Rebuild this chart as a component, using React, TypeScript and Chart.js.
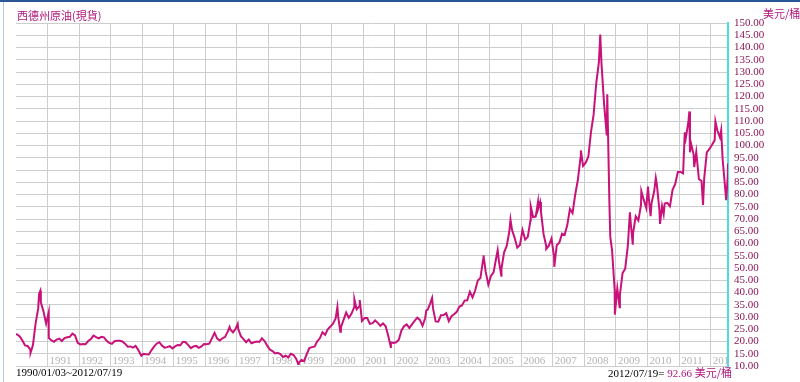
import { useEffect, useRef } from "react";
import { Chart, registerables } from "chart.js";
Chart.register(...registerables);

// Monthly WTI spot prices (USD / barrel)
const p1990 = [22.9, 22.1, 20.4, 18.4, 18.2, 16.7, 18.5, 27.3, 33.5, 36.0, 32.3, 27.3];
const p1991 = [25.2, 20.5, 19.9, 20.8, 21.2, 20.2, 21.4, 21.7, 21.9, 23.2, 22.5, 19.5];
const p1992 = [18.8, 19.0, 18.9, 20.2, 21.0, 22.4, 21.8, 21.3, 21.9, 21.7, 20.3, 19.4];
const p1993 = [19.0, 20.1, 20.3, 20.3, 20.0, 19.1, 17.9, 18.0, 17.5, 18.2, 16.6, 14.5];
const p1994 = [15.0, 14.8, 14.7, 16.4, 17.9, 19.1, 19.7, 18.4, 17.5, 17.7, 18.1, 17.2];
const p1995 = [18.0, 18.6, 18.5, 19.9, 19.7, 18.5, 17.3, 18.0, 18.2, 17.4, 18.0, 19.0];
const p1996 = [18.9, 19.1, 21.3, 23.5, 21.2, 20.4, 21.3, 21.9, 24.0, 24.9, 23.7, 25.2];
const p1997 = [25.1, 22.2, 21.0, 19.7, 20.8, 19.3, 19.7, 20.0, 19.8, 21.3, 20.2, 18.3];
const p1998 = [16.7, 16.1, 15.1, 15.4, 14.9, 13.7, 14.2, 13.5, 15.0, 14.5, 13.0, 11.4];
const p1999 = [12.5, 12.0, 14.7, 17.3, 17.7, 17.9, 20.1, 21.3, 23.8, 22.7, 25.0, 26.1];
const p2000 = [27.3, 29.4, 29.8, 25.7, 28.8, 31.8, 29.7, 31.3, 33.9, 33.1, 34.4, 28.4];
const p2001 = [29.6, 29.6, 27.2, 27.5, 28.6, 27.6, 26.4, 27.4, 26.2, 22.2, 19.6, 19.4];
const p2002 = [19.7, 20.7, 24.5, 26.2, 27.0, 25.5, 27.0, 28.4, 29.7, 28.8, 26.4, 29.5];
const p2003 = [33.0, 35.8, 33.5, 28.2, 28.1, 30.7, 30.8, 31.6, 28.3, 30.3, 31.1, 32.1];
const p2004 = [34.3, 34.7, 36.7, 36.8, 40.3, 38.0, 40.8, 44.9, 45.9, 53.3, 48.5, 43.2];
const p2005 = [46.8, 48.2, 54.2, 53.0, 49.8, 56.4, 59.0, 65.0, 65.6, 62.3, 58.3, 59.4];
const p2006 = [65.5, 61.6, 62.7, 69.4, 70.8, 71.0, 74.4, 73.0, 63.8, 58.9, 59.1, 62.0];
const p2007 = [54.5, 59.3, 60.4, 64.0, 63.5, 67.5, 74.1, 72.4, 79.9, 85.8, 94.8, 91.7];
const p2008 = [93.0, 95.4, 105.5, 112.6, 125.4, 133.9, 133.4, 116.7, 104.1, 76.6, 57.3, 41.1];
const p2009 = [41.7, 39.1, 47.9, 49.7, 59.0, 69.6, 64.2, 71.1, 69.4, 75.7, 78.0, 74.5];
const p2010 = [78.3, 76.4, 81.2, 84.3, 73.7, 75.3, 76.3, 76.6, 75.2, 81.9, 84.3, 89.2];
const p2011 = [89.2, 88.6, 102.9, 109.5, 100.9, 96.3, 97.3, 86.3, 85.5, 86.3, 97.2, 98.6];
const p2012 = [100.3, 102.2, 106.2, 103.3, 94.7, 82.3, 88.0];

const monthlyByYear: [number, number[]][] = [
  [1990, p1990], [1991, p1991], [1992, p1992], [1993, p1993], [1994, p1994],
  [1995, p1995], [1996, p1996], [1997, p1997], [1998, p1998], [1999, p1999],
  [2000, p2000], [2001, p2001], [2002, p2002], [2003, p2003], [2004, p2004],
  [2005, p2005], [2006, p2006], [2007, p2007], [2008, p2008], [2009, p2009],
  [2010, p2010], [2011, p2011], [2012, p2012],
];

// Daily extremes visible on the chart: [year, month, day, price]
const dailyPoints: [number, number, number, number][] = [
  [1990, 1, 3, 23.0], [1990, 6, 20, 15.4], [1990, 9, 27, 39.5], [1990, 10, 11, 40.7],
  [1991, 1, 16, 32.0], [1991, 1, 17, 21.4], [1993, 12, 23, 14.2],
  [1996, 10, 8, 25.9], [1997, 1, 10, 27.2], [1998, 12, 10, 10.8],
  [2000, 3, 7, 34.1], [2000, 4, 10, 24.0], [2000, 9, 20, 37.2], [2000, 11, 21, 36.9],
  [2001, 11, 15, 17.8], [2002, 12, 30, 32.7], [2003, 3, 7, 37.8],
  [2004, 10, 22, 55.2], [2005, 4, 4, 57.3], [2005, 5, 16, 46.8], [2005, 8, 30, 69.8],
  [2006, 4, 21, 75.2], [2006, 7, 14, 77.0], [2006, 8, 7, 76.9], [2006, 10, 17, 57.8],
  [2007, 1, 18, 50.5], [2007, 11, 21, 98.0], [2008, 7, 3, 145.3],
  [2008, 9, 22, 120.9], [2008, 10, 27, 62.7], [2008, 12, 19, 31.0],
  [2009, 2, 12, 34.0], [2009, 6, 11, 72.7], [2009, 7, 14, 59.5], [2009, 10, 21, 81.4],
  [2010, 1, 6, 83.2], [2010, 2, 5, 71.2], [2010, 4, 6, 86.8], [2010, 5, 25, 68.0],
  [2010, 7, 6, 72.0], [2011, 3, 7, 105.4], [2011, 4, 29, 113.9], [2011, 5, 6, 97.2],
  [2011, 6, 24, 91.2], [2011, 10, 4, 75.7], [2012, 2, 24, 109.8], [2012, 5, 1, 106.2],
  [2012, 6, 28, 77.7], [2012, 7, 19, 92.66],
];

const yearTicks = [1991, 1992, 1993, 1994, 1995, 1996, 1997, 1998, 1999, 2000, 2001,
  2002, 2003, 2004, 2005, 2006, 2007, 2008, 2009, 2010, 2011, 2012];
const priceMin = 10;
const priceMax = 150;
const priceStep = 5;

const startDate: [number, number, number] = [1990, 1, 3];
const endDate: [number, number, number] = [2012, 7, 19];

function toYear(y: number, m: number, d: number): number {
  const start = Date.UTC(y, 0, 1);
  const next = Date.UTC(y + 1, 0, 1);
  const t = Date.UTC(y, m - 1, d);
  return y + (t - start) / (next - start);
}

function buildPoints() {
  const pts: { x: number; y: number }[] = [];
  monthlyByYear.forEach(([yr, arr]) => {
    arr.forEach((v, i) => pts.push({ x: yr + (i + 0.5) / 12, y: v }));
  });
  dailyPoints.forEach(([y, m, d, v]) => pts.push({ x: toYear(y, m, d), y: v }));
  pts.sort((a, b) => a.x - b.x);
  return pts;
}

const yearLabelPlugin = {
  id: "yearLabels",
  beforeDatasetsDraw(chart: any) {
    const { ctx, chartArea, scales } = chart;
    const xs = scales.x;
    ctx.save();
    ctx.beginPath();
    ctx.rect(chartArea.left, chartArea.top, chartArea.right - chartArea.left, chartArea.bottom - chartArea.top);
    ctx.clip();
    ctx.fillStyle = "#b4b4b4";
    ctx.font = '11px "Liberation Serif", serif';
    ctx.textAlign = "left";
    ctx.textBaseline = "middle";
    yearTicks.forEach((yr) => {
      const px = xs.getPixelForValue(yr);
      ctx.fillText(String(yr), px + 2, chartArea.bottom - 5);
    });
    ctx.restore();
  },
};

export default function App() {
  const ref = useRef<HTMLCanvasElement | null>(null);
  useEffect(() => {
    if (!ref.current) return;
    const chart = new Chart(ref.current, {
      type: "line",
      data: {
        datasets: [
          {
            data: buildPoints(),
            borderColor: "#c8127a",
            borderWidth: 2,
            pointRadius: 0,
            tension: 0,
            fill: false,
          },
        ],
      },
      options: {
        animation: false,
        responsive: false,
        devicePixelRatio: 1,
        parsing: false as any,
        layout: { padding: { left: 16, top: 23, right: 0, bottom: 16 } },
        plugins: { legend: { display: false }, tooltip: { enabled: false }, title: { display: false } },
        scales: {
          x: {
            type: "linear",
            min: toYear(...startDate),
            max: toYear(...endDate),
            afterBuildTicks: (s: any) => {
              s.ticks = yearTicks.map((v) => ({ value: v }));
            },
            afterFit: (s: any) => {
              s.height = 0;
            },
            ticks: { display: false },
            grid: { color: "#cdcdcd", lineWidth: 1, drawTicks: false },
            border: { display: false },
          },
          y: {
            type: "linear",
            position: "right",
            min: priceMin,
            max: priceMax,
            afterFit: (s: any) => {
              s.width = 72;
            },
            ticks: {
              stepSize: priceStep,
              autoSkip: false,
              color: "#8c1656",
              font: { family: '"Liberation Serif", serif', size: 11 },
              padding: 6,
              callback: (v: any) => Number(v).toFixed(2),
            },
            grid: { color: "#cdcdcd", lineWidth: 1, drawTicks: false },
            border: { color: "#4fdcdc", width: 2 },
          },
        },
      },
      plugins: [yearLabelPlugin],
    });
    return () => chart.destroy();
  }, []);

  return (
    <div style={{ position: "absolute", left: 0, top: 0, width: 800, height: 382, background: "#fff", overflow: "hidden" }}>
      <div style={{ position: "absolute", left: 0, top: 0, width: 800, height: 2, background: "#2b5797" }} />
      <div style={{ position: "absolute", left: 3, top: 2, width: 1, height: 380, background: "#a9cde6" }} />
      <canvas ref={ref} width={800} height={382} style={{ position: "absolute", left: 0, top: 0, width: 800, height: 382 }} />
      <div style={{ position: "absolute", left: 17, top: 7, font: '11px "Noto Sans CJK TC", sans-serif', color: "#b0167c", lineHeight: "16px", whiteSpace: "nowrap" }}>
        西德州原油(現貨)
      </div>
      <div style={{ position: "absolute", left: 763, top: 5, font: '11px "Noto Sans CJK TC", sans-serif', color: "#b0167c", lineHeight: "16px", whiteSpace: "nowrap" }}>
        美元/桶
      </div>
      <div style={{ position: "absolute", left: 16, top: 365, font: '11px "Liberation Serif", serif', color: "#000", lineHeight: "14px", whiteSpace: "nowrap" }}>
        1990/01/03~2012/07/19
      </div>
      <div style={{ position: "absolute", right: 68, top: 365, font: '11px "Liberation Serif", serif', color: "#000", lineHeight: "14px", whiteSpace: "nowrap" }}>
        2012/07/19={" "}
        <span style={{ color: "#b0167c" }}>
          92.66 <span style={{ fontFamily: '"Noto Sans CJK TC", sans-serif' }}>美元/桶</span>
        </span>
      </div>
    </div>
  );
}
